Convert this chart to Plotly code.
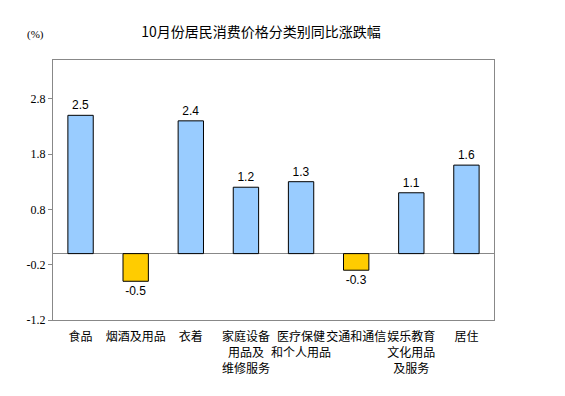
import plotly.graph_objects as go

categories = ["食品", "烟酒及用品", "衣着", "家庭设备<br>用品及<br>维修服务",
              "医疗保健<br>和个人用品", "交通和通信", "娱乐教育<br>文化用品<br>及服务", "居住"]
values = [2.5, -0.5, 2.4, 1.2, 1.3, -0.3, 1.1, 1.6]
tick_vals = [-1.2, -0.2, 0.8, 1.8, 2.8]
title_text = "10月份居民消费价格分类别同比涨跌幅"

colors = ["#99CCFF" if v >= 0 else "#FFCC00" for v in values]

fig = go.Figure(go.Bar(
    x=categories, y=values,
    marker=dict(color=colors, line=dict(color="#000000", width=1)),
    width=0.46,
    text=[f"{v:.1f}" for v in values],
    textposition="outside",
    textfont=dict(family="Liberation Sans, Arial", size=12, color="#000000"),
    cliponaxis=False,
))

W, H = 557, 388
fig.update_layout(
    width=W, height=H,
    margin=dict(l=45, r=71, t=52, b=76, autoexpand=False),
    paper_bgcolor="white", plot_bgcolor="white",
    showlegend=False,
    title=dict(text=title_text, x=253/W, xanchor="center", y=1-24/H, yanchor="middle",
               font=dict(family="Noto Sans CJK SC", size=14, color="#000000")),
    font=dict(family="Noto Sans CJK SC", size=12, color="#000000"),
    annotations=[dict(text="(%)", xref="paper", yref="paper", x=-18/441, y=1+25/260,
                      xanchor="center", yanchor="middle", showarrow=False,
                      font=dict(family="Liberation Serif", size=11, color="#000000"))],
)
fig.update_xaxes(showline=True, linecolor="#888888", linewidth=1, mirror=True,
                 ticks="", showgrid=False, tickangle=0, automargin=False,
                 ticklabelstandoff=6,
                 tickfont=dict(family="Noto Sans CJK SC", size=12, color="#000000"))
fig.update_yaxes(range=[-1.2, 3.5], tickvals=tick_vals, ticktext=[f"{t:.1f}" for t in tick_vals],
                 showline=True, linecolor="#888888", linewidth=1, mirror=True,
                 ticks="outside", ticklen=4, tickcolor="#888888", automargin=False,
                 showgrid=False, zeroline=True, zerolinecolor="#888888", zerolinewidth=1,
                 tickfont=dict(family="Liberation Serif", size=12, color="#000000"))

fig.write_html("out.html")
